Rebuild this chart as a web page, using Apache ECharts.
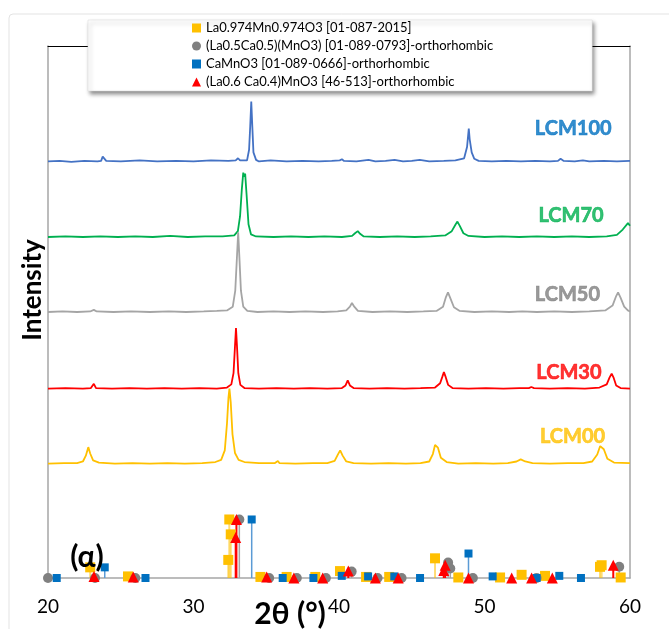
<!DOCTYPE html>
<html>
<head>
<meta charset="utf-8">
<script src="https://cdn.jsdelivr.net/npm/echarts@6/dist/echarts.min.js"></script>
<style>
  html, body { margin: 0; padding: 0; background: #fff; }
  #chart { width: 669px; height: 629px; }
</style>
</head>
<body>
<div id="chart"></div>
<script>
// XRD patterns of the LCM samples (2θ in degrees, intensity in a.u., stacked)
const LCM100 = [[20,78.3],[20.8,78.4],[21.6,78.2],[22.5,78.4],[23.4,78.3],[23.65,78.4],[23.76,79.2],[23.82,79.5],[23.88,79.1],[24.0,78.4],
  [25,78.3],[26.3,78.5],[27.5,78.3],[28.8,78.4],[30,78.3],[31.2,78.5],[32.4,78.4],[32.9,78.5],[33.06,78.9],[33.2,78.5],
  [33.68,78.5],[33.82,80.5],[33.9,85],[33.97,89.55],[34.04,85],[34.12,80],[34.3,78.6],[34.5,78.3],
  [35.3,78.5],[36.4,78.3],[37.5,78.4],[38.6,78.3],[39.5,78.4],[40.05,78.5],[40.2,78.7],[40.35,78.4],[41.2,78.3],[42.03,78.6],
  [42.5,78.3],[43.2,78.4],[43.82,78.6],[44.4,78.3],[45.0,78.4],[45.55,78.6],[46.2,78.3],[47.2,78.4],[48.0,78.5],[48.6,78.9],
  [48.8,81],[48.92,84.5],[48.98,82.5],[49.05,82.2],[49.12,80],[49.3,78.8],[49.6,78.4],[50.5,78.3],[51.5,78.4],[52.5,78.3],
  [53.5,78.4],[54.5,78.3],[55.05,78.4],[55.23,78.8],[55.45,78.4],[56.2,78.3],[56.76,78.5],[57.2,78.3],[58.2,78.4],[59.1,78.3],[60,78.4]];

const LCM70 = [[20,64.1],[21.2,64.2],[22.4,64.1],[23.6,64.2],[24.8,64.1],[26,64.2],[27.2,64.1],[28.4,64.3],[29.6,64.1],[30.8,64.2],
  [32,64.2],[32.8,64.4],[33.05,65.2],[33.2,68],[33.32,73],[33.42,76.2],[33.49,75.4],[33.55,76.0],[33.65,72],[33.78,66.5],
  [33.95,64.6],[34.3,64.2],[35.5,64.1],[36.7,64.2],[37.9,64.1],[39,64.2],[40.2,64.1],[40.9,64.3],[41.1,64.8],[41.29,65.2],
  [41.45,64.7],[41.7,64.2],[42.8,64.1],[44,64.2],[45.2,64.1],[46.3,64.2],[47.3,64.4],[47.75,65.2],[48.0,66.4],[48.14,67.0],
  [48.3,66.2],[48.55,64.8],[48.9,64.3],[50,64.1],[51.2,64.2],[52.4,64.1],[53.6,64.2],[54.8,64.1],[56,64.2],[57.2,64.1],
  [58.4,64.2],[59.1,64.5],[59.5,65.5],[59.86,66.7],[60,66.2]];

const LCM50 = [[20,50.0],[21,50.1],[22,50.0],[22.9,50.1],[23.15,50.4],[23.35,50.1],[24.5,50.0],[25.7,50.1],[27,50.0],[28.3,50.1],
  [29.5,50.0],[30.7,50.1],[31.6,50.2],[32.3,50.3],[32.7,51.0],[32.87,54],[32.98,60],[33.07,65.0],[33.15,60.5],[33.26,54],
  [33.42,51],[33.7,50.2],[34.4,50.0],[35.5,50.1],[36.6,50.0],[37.7,50.1],[38.9,50.0],[39.9,50.1],[40.5,50.3],[40.75,51.0],
  [40.89,51.7],[41.05,51.0],[41.3,50.2],[42.3,50.0],[43.5,50.1],[44.7,50.0],[45.8,50.1],[46.7,50.2],[47.15,51.0],[47.35,52.8],
  [47.49,53.7],[47.65,52.6],[47.9,50.9],[48.3,50.2],[49.3,50.0],[50.5,50.1],[51.7,50.0],[52.6,50.1],[53.6,50.0],[54.8,50.1],
  [56,50.0],[57.2,50.1],[58.3,50.3],[58.8,51.2],[59.05,53.0],[59.18,53.7],[59.35,52.7],[59.6,51],[59.85,50.3],[60,50.1]];

const LCM30 = [[20,35.6],[21.2,35.7],[22.4,35.6],[22.95,35.7],[23.15,36.5],[23.3,35.7],[24.4,35.6],[25.6,35.7],[26.8,35.6],[28,35.7],
  [29.2,35.6],[30.4,35.7],[31.6,35.6],[32.3,35.8],[32.6,36.4],[32.75,38.5],[32.85,43.5],[32.92,47.0],[32.99,43.5],[33.08,38.5],
  [33.22,36.3],[33.5,35.7],[34.5,35.6],[35.7,35.7],[36.9,35.6],[38,35.7],[39.2,35.6],[40.2,35.7],[40.45,36.2],[40.6,37.15],
  [40.75,36.2],[41,35.7],[42.1,35.6],[43.3,35.7],[44.5,35.6],[45.6,35.7],[46.6,35.8],[46.95,36.6],[47.1,37.8],[47.21,38.7],
  [47.33,37.8],[47.5,36.3],[47.8,35.7],[48.9,35.6],[50.1,35.7],[51.3,35.6],[52.4,35.7],[53.05,35.7],[53.22,35.9],[53.4,35.7],
  [54.5,35.6],[55.7,35.7],[56.9,35.6],[57.9,35.8],[58.4,36.4],[58.6,37.7],[58.74,38.4],[58.88,37.6],[59.05,36.2],[59.35,35.7],[60,35.6]];

const LCM00 = [[20,21.5],[21.1,21.6],[22.0,21.6],[22.4,21.9],[22.6,23.0],[22.77,24.6],[22.9,23.4],[23.1,22.1],[23.5,21.7],[24.6,21.5],
  [25.8,21.6],[27,21.5],[28.2,21.6],[29.4,21.5],[30.6,21.6],[31.5,21.8],[31.9,22.2],[32.15,24.0],[32.3,29],[32.4,33.8],
  [32.47,35.6],[32.56,33],[32.68,27],[32.85,23.5],[33.1,22.2],[33.5,21.8],[34.5,21.6],[35.6,21.6],[35.8,22.0],[35.9,21.6],
  [37,21.5],[38.2,21.6],[39.2,21.6],[39.7,22.0],[39.92,23.2],[40.08,24.0],[40.25,23.0],[40.5,21.9],[41,21.6],[42.2,21.5],
  [43.4,21.6],[44.6,21.5],[45.6,21.6],[46.2,21.9],[46.45,23.3],[46.6,25.0],[46.68,25.3],[46.8,24.5],[47.0,22.6],[47.4,21.8],
  [48.2,21.5],[49.4,21.6],[50.6,21.5],[51.6,21.6],[52.2,21.9],[52.49,22.3],[52.8,21.9],[53.3,21.6],[54.5,21.5],[55.7,21.6],
  [56.8,21.6],[57.4,21.9],[57.75,23.2],[57.95,24.8],[58.06,25.1],[58.2,24.2],[58.45,22.4],[58.9,21.7],[60,21.6]];

// Reference patterns: [2θ, relative line height]
const REF_LMO = [[22.9,2.0],[25.5,0.3],[32.39,3.4],[32.56,8.2],[32.46,11.0],[34.6,0.2],[36.4,0.2],[38.37,0.2],[40.07,1.3],
  [41.86,0.2],[43.45,0.2],[46.6,3.7],[48.2,0.1],[51.07,0.1],[52.55,0.6],[54.16,0.4],[57.94,2.1],[58.05,2.4],[59.36,0.1]];
const REF_LCMO55 = [[20.0,0],[23.23,0],[26.0,0],[33.15,11.0],[35.2,0],[37.1,0],[39.1,0],[40.87,1.2],[42.65,0],[44.3,0],
  [47.5,2.9],[47.65,1.8],[49.2,0],[53.58,0],[59.26,2.1]];
const REF_CMO = [[20.6,0],[23.9,2.0],[26.7,0],[34.0,11.0],[36.13,0],[38.24,0],[40.19,0.4],[42.0,0.3],[43.8,0.3],[45.57,0],
  [48.9,4.6],[50.56,0.3],[53.58,0],[55.14,0.4],[56.63,0]];
const REF_LCMO64 = [[23.16,0.3],[25.86,0.2],[32.9,7.6],[32.95,11.0],[35.03,0.2],[36.9,0],[38.88,0],[40.64,1.3],[42.5,0],
  [44.07,0],[47.2,1.4],[47.3,2.4],[48.9,0],[51.87,0],[53.24,0],[54.66,0],[58.85,2.4]];

const REF_NAMES = [
  'La0.974Mn0.974O3 [01-087-2015]',
  '(La0.5Ca0.5)(MnO3) [01-089-0793]-orthorhombic',
  'CaMnO3 [01-089-0666]-orthorhombic',
  '(La0.6 Ca0.4)MnO3 [46-513]-orthorhombic'
];
const SAMPLE_NAMES = ['LCM100', 'LCM70', 'LCM50', 'LCM30', 'LCM00'];
const X_TICKS = [20, 30, 40, 50, 60];

// sample label anchors (data coordinates)
const LABEL_ANCHORS = [[56.1, 84.4], [55.95, 68.1], [55.7, 53.3], [55.8, 38.7], [56.05, 26.5]];

const FONT = 'Lato, "Open Sans", sans-serif';
const curveColors = ['#4472C4', '#00B050', '#A5A5A5', '#FF0000', '#FFC000'];
const labelColors = ['#0070C0', '#00B050', '#808080', '#FF0000', '#FFC000'];

const chart = echarts.init(document.getElementById('chart'), null, { renderer: 'canvas' });

function stemRenderer(color, width) {
  return function (params, api) {
    const x = api.value(0), h = api.value(1);
    if (h < 0.5) return null;
    const p0 = api.coord([x, 0]);
    const p1 = api.coord([x, h]);
    return {
      type: 'line',
      shape: { x1: p0[0], y1: p0[1], x2: p1[0], y2: p1[1] },
      style: { stroke: color, lineWidth: width }
    };
  };
}

const curves = [LCM100, LCM70, LCM50, LCM30, LCM00];
const curveSeries = curves.map((d, i) => ({
  name: SAMPLE_NAMES[i],
  type: 'line',
  data: d,
  showSymbol: false,
  smooth: false,
  lineStyle: { color: curveColors[i], width: 1.8 },
  z: 2,
  silent: true
}));

const refSets = [
  { data: REF_LMO, color: '#FFC000', stem: 'rgba(255,192,0,0.55)', stemW: 2, symbol: 'rect', size: 10 },
  { data: REF_LCMO55, color: '#808080', stem: '#A5A5A5', stemW: 1.5, symbol: 'circle', size: 10 },
  { data: REF_CMO, color: '#0070C0', stem: '#5B9BD5', stemW: 1.5, symbol: 'rect', size: 8 },
  { data: REF_LCMO64, color: '#FF0000', stem: '#FF0000', stemW: 2, symbol: 'triangle', size: 11 }
];

const stemSeries = refSets.map((r, i) => ({
  name: 'stem-' + i,
  type: 'custom',
  data: r.data,
  renderItem: stemRenderer(r.stem, r.stemW),
  z: 3,
  silent: true,
  clip: false
}));

const refSeries = refSets.map((r, i) => ({
  name: REF_NAMES[i],
  type: 'scatter',
  data: r.data,
  symbol: r.symbol,
  symbolSize: r.size,
  itemStyle: { color: r.color, opacity: 1 },
  z: 4 + i,
  clip: false,
  silent: true
}));

const labelSeries = {
  name: 'sample-labels',
  type: 'scatter',
  symbolSize: 0,
  silent: true,
  z: 6,
  data: SAMPLE_NAMES.map((n, i) => ({
    name: n,
    value: LABEL_ANCHORS[i],
    label: { color: labelColors[i], textBorderColor: labelColors[i] }
  })),
  label: {
    show: true,
    position: 'inside',
    formatter: p => p.name,
    fontFamily: FONT,
    fontWeight: 'bold',
    fontSize: 20,
    textBorderWidth: 0.6
  }
};

const option = {
  animation: false,
  backgroundColor: '#fff',
  grid: { left: 48, right: 39, top: 46, bottom: 51, containLabel: false },
  xAxis: [{
    type: 'value', min: 20, max: 60, interval: 10,
    axisLine: { show: true, lineStyle: { color: '#A6A6A6', width: 1.5 } },
    axisTick: { show: false },
    splitLine: { show: false },
    axisLabel: {
      fontSize: 19, color: '#000', margin: 19, fontFamily: FONT,
      customValues: X_TICKS
    }
  }, {
    type: 'value', min: 20, max: 60, position: 'top',
    axisLine: { show: true, onZero: false, lineStyle: { color: '#000', width: 1 } },
    axisTick: { show: false }, axisLabel: { show: false }, splitLine: { show: false }
  }],
  yAxis: [{
    type: 'value', min: 0, max: 100,
    axisLine: { show: true, lineStyle: { color: '#A6A6A6', width: 1.5 } },
    axisTick: { show: false }, axisLabel: { show: false }, splitLine: { show: false }
  }, {
    type: 'value', min: 0, max: 100, position: 'right',
    axisLine: { show: true, onZero: false, lineStyle: { color: '#A6A6A6', width: 1.5 } },
    axisTick: { show: false }, axisLabel: { show: false }, splitLine: { show: false }
  }],
  legend: {
    orient: 'vertical',
    left: 88, top: 20,
    data: REF_NAMES.map((n, i) => ({ name: n, icon: refSets[i].symbol, itemStyle: { color: refSets[i].color } })),
    itemWidth: 9, itemHeight: 9, itemGap: 4,
    selectedMode: false,
    padding: [1, 99, 2, 104],
    backgroundColor: '#fff',
    borderColor: '#D9D9D9', borderWidth: 0.5,
    shadowBlur: 4, shadowColor: 'rgba(0,0,0,0.45)', shadowOffsetX: 2, shadowOffsetY: 3,
    textStyle: { fontSize: 13, fontFamily: FONT, color: '#000', lineHeight: 14 },
    z: 10
  },
  graphic: [
    {
      type: 'rect', z: -1, silent: true,
      shape: { x: 9, y: 14, width: 700, height: 700, r: 4 },
      style: { fill: 'none', stroke: '#E3E3E3', lineWidth: 1 }
    },
    {
      type: 'text', x: 33, y: 290, rotation: Math.PI / 2, silent: true,
      style: { text: 'Intensity', fontFamily: FONT, fontWeight: 'bold', fontSize: 26, fill: '#000',
               textAlign: 'center', textVerticalAlign: 'middle' }
    },
    {
      type: 'text', x: 290, y: 614, silent: true,
      style: { text: '2θ (°)', fontFamily: FONT, fontWeight: 'bold', fontSize: 30, fill: '#000',
               textAlign: 'center', textVerticalAlign: 'middle' }
    },
    {
      type: 'text', x: 87, y: 557, silent: true, z: 8,
      style: { text: '(α)', fontFamily: FONT, fontWeight: 'bold', fontSize: 30, fill: '#000',
               textAlign: 'center', textVerticalAlign: 'middle' }
    }
  ],
  series: [].concat(curveSeries, stemSeries, refSeries, [labelSeries])
};

chart.setOption(option);
</script>
</body>
</html>
